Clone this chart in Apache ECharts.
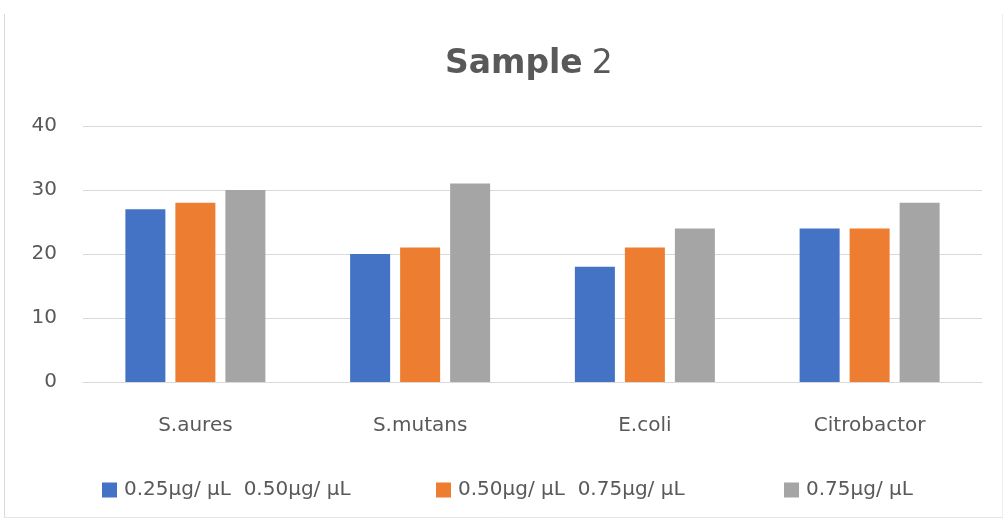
<!DOCTYPE html>
<html>
<head>
<meta charset="utf-8">
<script src="https://cdn.jsdelivr.net/npm/echarts@6/dist/echarts.min.js"></script>
<style>
  html, body { margin: 0; padding: 0; background: #fff; }
  #chart { width: 1005px; height: 521px; }
</style>
</head>
<body>
<div id="chart"></div>
<script>
// bacteria on the x axis
const categories = ['S.aures', 'S.mutans', 'E.coli', 'Citrobactor']
// legend names, as they appear in the original
const seriesNames = ['0.25µg/ µL  0.50µg/ µL', '0.50µg/ µL  0.75µg/ µL', '0.75µg/ µL']
const low = [27, 20, 18, 24]
const mid = [28, 21, 21, 24]
const high = [30, 31, 24, 28]
const colors = ['#4472C4', '#ED7D31', '#A5A5A5']

const font = '"DejaVu Sans", sans-serif'
const textColor = '#595959'

const chart = echarts.init(document.getElementById('chart'))

// one legend per entry so they sit where Excel put them
const legendLefts = [97, 431, 779]
const legends = seriesNames.map((name, i) => ({
  data: [name],
  left: legendLefts[i],
  top: 475,
  itemWidth: 15,
  itemHeight: 15,
  icon: 'rect',
  itemGap: 0,
  textStyle: { fontFamily: font, fontSize: 20, color: textColor, padding: [0, 0, 0, 2] }
}))

const option = {
  animation: false,
  title: {
    text: '{b|Sample} {r|2}',
    left: 440,
    top: 43,
    textStyle: {
      rich: {
        b: { fontFamily: font, fontSize: 33, fontWeight: 'bold', color: textColor },
        r: { fontFamily: font, fontSize: 33, fontWeight: 'normal', color: textColor, padding: [0, 0, 0, 4] }
      }
    }
  },
  legend: legends,
  grid: { left: 83, right: 23, top: 126, bottom: 139 },
  xAxis: {
    type: 'category',
    data: categories,
    axisTick: { show: false },
    axisLine: { lineStyle: { color: '#d9d9d9' } },
    axisLabel: { fontFamily: font, fontSize: 20, color: textColor, margin: 34 }
  },
  yAxis: {
    type: 'value',
    min: 0,
    max: 40,
    interval: 10,
    axisLine: { show: false },
    axisTick: { show: false },
    splitLine: { lineStyle: { color: '#d9d9d9', width: 1 } },
    axisLabel: { fontFamily: font, fontSize: 20, color: textColor, margin: 26 }
  },
  series: [low, mid, high].map((vals, i) => ({
    name: seriesNames[i],
    type: 'bar',
    data: vals,
    barWidth: 40,
    barGap: '25%',
    itemStyle: { color: colors[i] }
  })),
  // faint frame of the pasted chart
  graphic: [
    { type: 'line', shape: { x1: 4.5, y1: 14, x2: 4.5, y2: 517 }, style: { stroke: '#d9d9d9', lineWidth: 1 } },
    { type: 'line', shape: { x1: 4, y1: 517.5, x2: 1003, y2: 517.5 }, style: { stroke: '#e6e6e6', lineWidth: 1 } },
    { type: 'line', shape: { x1: 1002.5, y1: 14, x2: 1002.5, y2: 517 }, style: { stroke: '#eeeeee', lineWidth: 1 } }
  ]
}

chart.setOption(option)
</script>
</body>
</html>
